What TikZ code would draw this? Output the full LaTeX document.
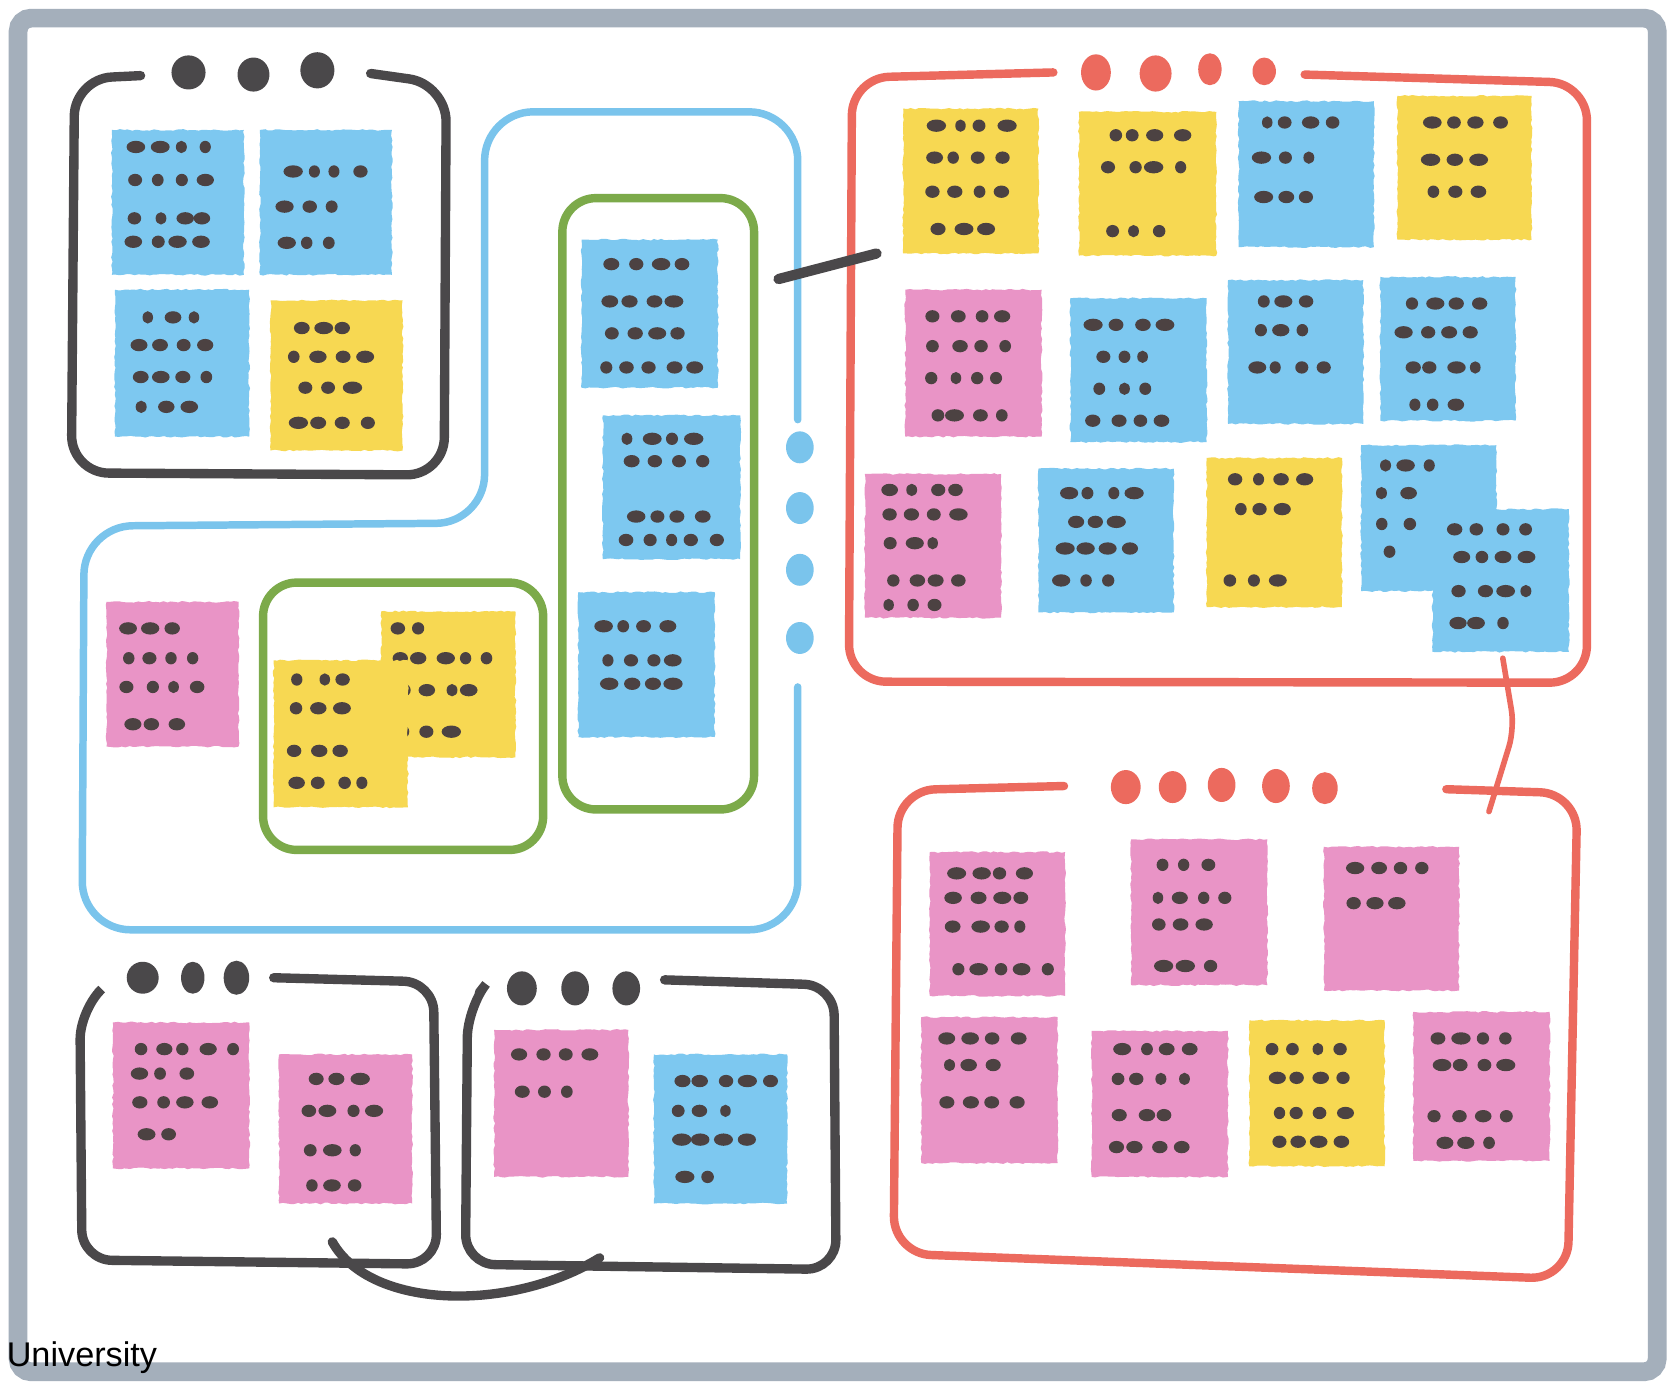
\documentclass[tikz,border=0pt]{standalone}
\usepackage{fontspec}
\newfontfamily\boardfont{Liberation Sans}
\usetikzlibrary{decorations.pathmorphing}
\definecolor{noteblue}{RGB}{125,200,240}
\definecolor{noteyellow}{RGB}{247,216,82}
\definecolor{notepink}{RGB}{233,148,198}
\definecolor{blobgray}{RGB}{76,66,66}
\definecolor{inkblack}{RGB}{74,72,74}
\definecolor{lineblue}{RGB}{122,196,236}
\definecolor{linegreen}{RGB}{124,170,74}
\definecolor{linered}{RGB}{236,106,94}
\definecolor{boardgray}{RGB}{164,175,187}
\newcommand\unitlen{0.02cm}
\tikzset{
  board/.style={draw=boardgray, line width=10pt, rounded corners=7pt, fill=white},
  blackline/.style={draw=inkblack, line width=5pt, line cap=round, rounded corners=20pt},
  blueline/.style={draw=lineblue, line width=4pt, line cap=round, rounded corners=26pt},
  greenline/.style={draw=linegreen, line width=4.5pt, rounded corners=18pt},
  redline/.style={draw=linered, line width=4.5pt, line cap=round, rounded corners=20pt},
  note/.style={inner sep=0pt, outer sep=0pt, decorate, decoration={random steps, segment length=2pt, amplitude=0.45pt}},
  blob/.style={fill=blobgray}
}
\newcommand\sticky[7]{%
  \node[note, fill=#6, minimum width={(#4-#2)*\unitlen}, minimum height={(#5-#3)*\unitlen}] (#1) at ({(#2+#4)/2},{(#3+#5)/2}) {};
  \foreach \rowdy/\rowdx/\rown in {#7} {
    \foreach \k in {1,...,\rown} {
      \pgfmathsetmacro\blobx{\rowdx+(\k-1)*21+3*rand}
      \pgfmathsetmacro\blobw{2.8+2.4*rnd}
      \fill[blob] ([shift={(\blobx,\rowdy)}]#1.north west) ellipse[x radius=\blobw*1pt, y radius=3.3pt];
    }
  }
}

\begin{document}
\begin{tikzpicture}[x=\unitlen, y=-\unitlen]
  \pgfmathsetseed{7}
  \useasboundingbox (0,0) rectangle (1568,1299);
  \fill[white] (0,0) rectangle (1568,1299);
  \draw[board] (17,17) rectangle (1556,1288);

  \draw[blackline] (132,71) -- (70,74) -- (67,444) -- (417,446) -- (419,79) -- (348,69);
  \foreach \x/\y/\rx/\ry in {177/68/16/16, 238/70/15/16, 298/66/16/17}
    \fill[inkblack] (\x,\y) ellipse[x radius=\rx*\unitlen, y radius=\ry*\unitlen];

  \draw[blueline] (749,394) -- (749,105) -- (455,105) -- (455,491) -- (79,494) -- (77,873) -- (749,873) -- (749,645);
  \foreach \y in {420,477,535,599}
    \fill[lineblue] (751,\y) ellipse[x radius=13*\unitlen, y radius=15*\unitlen];
  \draw[greenline] (528,186) rectangle (708,760);
  \draw[greenline] (247,547) rectangle (510,798);

  \draw[redline] (989,68) -- (800,73) -- (797,640) -- (1490,641) -- (1490,78) -- (1225,70);
  \foreach \x/\y/\rx/\ry in {1029/68/14/17, 1085/69/15/17, 1136/65/11/15, 1187/67/11/13}
    \fill[linered] (\x,\y) ellipse[x radius=\rx*\unitlen, y radius=\ry*\unitlen];

  \draw[redline] (999,738) -- (843,742) -- (839,1177) -- (1472,1201) -- (1481,745) -- (1358,741);
  \foreach \x/\y/\rx/\ry in {1057/739/14/16, 1101/739/13/15, 1147/737/13/16, 1198/738/13/16, 1244/740/12/15}
    \fill[linered] (\x,\y) ellipse[x radius=\rx*\unitlen, y radius=\ry*\unitlen];

  \draw[blackline, rounded corners=16pt] (257,918) -- (407,922) -- (410,1187) -- (77,1183) -- (75,948) -- (92,932);
  \foreach \x/\y/\rx/\ry in {134/918/15/15, 181/918/11/15, 222/918/12/16}
    \fill[inkblack] (\x,\y) ellipse[x radius=\rx*\unitlen, y radius=\ry*\unitlen];
  \draw[blackline, rounded corners=16pt] (624,920) -- (783,925) -- (785,1192) -- (437,1187) -- (439,946) -- (450,932);
  \foreach \x/\y/\rx/\ry in {490/928/14/16, 540/928/13/16, 588/928/13/16}
    \fill[inkblack] (\x,\y) ellipse[x radius=\rx*\unitlen, y radius=\ry*\unitlen];

  \sticky{n1}{105}{122}{229}{258}{noteblue}{16/22/4, 47/22/4, 83/24/4, 105/22/4}
  \sticky{n2}{244}{122}{368}{258}{noteblue}{39/30/4, 72/24/3, 106/24/3}
  \sticky{n3}{108}{272}{234}{410}{noteblue}{26/32/3, 52/22/4, 82/24/4, 110/26/3}
  \sticky{n4}{254}{282}{378}{423}{noteyellow}{26/28/3, 53/24/4, 82/32/3, 115/26/4}
  \sticky{n5}{100}{565}{224}{701}{notepink}{25/22/3, 53/20/4, 80/20/4, 115/22/3}
  \sticky{n6}{358}{574}{484}{711}{noteyellow}{16/16/2, 44/16/5, 74/22/4, 113/22/3}
  \sticky{n7}{257}{620}{383}{758}{noteyellow}{18/24/3, 45/22/3, 85/22/3, 115/22/4}
  \sticky{n8}{546}{225}{674}{364}{noteblue}{23/30/4, 58/26/4, 88/28/4, 120/22/5}
  \sticky{n9}{566}{390}{695}{525}{noteblue}{22/24/4, 43/30/4, 95/30/4, 117/22/5}
  \sticky{n10}{543}{556}{671}{692}{noteblue}{32/22/4, 64/26/4, 86/28/4}

  \sticky{r1}{848}{102}{975}{238}{noteyellow}{16/32/4, 46/28/4, 78/28/4, 113/34/3}
  \sticky{r2}{1013}{105}{1142}{240}{noteyellow}{22/32/4, 52/30/4, 112/32/3}
  \sticky{r3}{1163}{95}{1290}{232}{noteblue}{20/24/4, 53/24/3, 90/24/3}
  \sticky{r4}{1312}{90}{1438}{225}{noteyellow}{25/32/4, 60/32/3, 90/32/3}
  \sticky{r5}{850}{272}{978}{410}{notepink}{25/28/4, 53/28/4, 83/24/4, 118/28/4}
  \sticky{r6}{1005}{280}{1133}{415}{noteblue}{25/24/4, 55/28/3, 85/28/3, 115/24/4}
  \sticky{r7}{1153}{263}{1280}{398}{noteblue}{20/32/3, 47/28/3, 82/26/4}
  \sticky{r8}{1296}{260}{1423}{395}{noteblue}{25/28/4, 52/24/4, 85/28/4, 120/30/3}
  \sticky{r9}{812}{445}{940}{580}{notepink}{15/24/4, 38/24/4, 65/24/3, 100/26/4, 123/22/3}
  \sticky{r10}{975}{440}{1102}{575}{noteblue}{23/28/4, 50/34/3, 75/24/4, 105/22/3}
  \sticky{r11}{1133}{430}{1260}{570}{noteyellow}{20/28/4, 48/30/3, 115/24/3}
  \sticky{r12}{1278}{418}{1405}{555}{noteblue}{19/22/3, 45/22/2, 74/22/2, 100/24/1}
  \sticky{r13}{1345}{478}{1473}{612}{noteblue}{19/22/4, 45/26/4, 77/26/4, 107/22/3}

  \sticky{s1}{873}{800}{1000}{935}{notepink}{20/26/4, 43/24/4, 70/24/4, 110/24/5}
  \sticky{s2}{1062}{788}{1190}{925}{notepink}{24/28/3, 55/24/4, 80/28/3, 119/30/3}
  \sticky{s3}{1243}{795}{1370}{930}{notepink}{20/28/4, 53/26/3}
  \sticky{s4}{865}{955}{993}{1092}{notepink}{20/26/4, 45/24/3, 80/26/4}
  \sticky{s5}{1025}{968}{1153}{1105}{notepink}{17/28/4, 45/22/4, 79/28/3, 109/22/4}
  \sticky{s6}{1173}{958}{1300}{1095}{noteyellow}{27/22/4, 54/26/4, 87/26/4, 114/26/4}
  \sticky{s7}{1327}{950}{1455}{1090}{notepink}{25/26/4, 50/24/4, 98/22/4, 123/30/3}

  \sticky{a1}{106}{960}{234}{1097}{notepink}{25/26/5, 48/26/3, 75/26/4, 105/30/2}
  \sticky{a2}{262}{990}{387}{1130}{notepink}{23/32/3, 53/26/4, 90/30/3, 123/30/3}
  \sticky{b1}{464}{967}{590}{1105}{notepink}{23/24/4, 58/24/3}
  \sticky{b2}{614}{990}{739}{1130}{noteblue}{25/24/5, 53/24/3, 80/24/4, 115/28/2}

  \coordinate (tieA) at (731,262);
  \coordinate (tieB) at (823,238);
  \draw[blackline, line width=5.5pt] (tieA) -- (tieB);
  \coordinate (linkA) at (1411,618);
  \coordinate (linkB) at (1398,762);
  \draw[redline, line width=3pt, rounded corners=10pt] (linkA) -- (1422,684) -- (linkB);
  \coordinate (loopA) at (312,1166);
  \coordinate (loopB) at (563,1181);
  \draw[blackline] (loopA) .. controls (348,1230) and (480,1232) .. (loopB);

  \node[anchor=base west, inner sep=0pt] (uni) at (6,1283) {\boardfont\fontsize{18.3}{21}\selectfont University};
\end{tikzpicture}
\end{document}
